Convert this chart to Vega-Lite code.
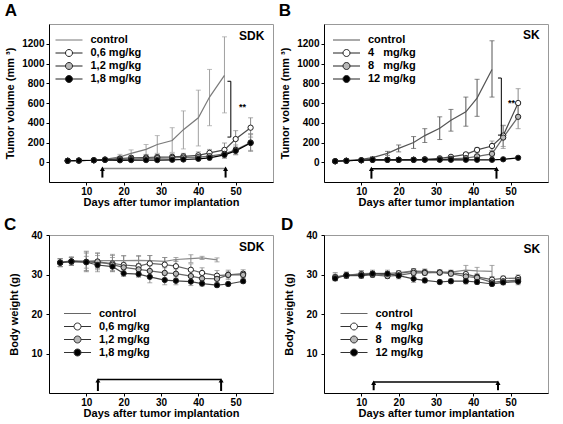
{
"$schema": "https://vega.github.io/schema/vega-lite/v6.json",
"background": "white",
"padding": {"left": 3, "top": 1, "right": 0, "bottom": 0},
"columns": 2,
"spacing": {"row": 7, "column": 4},
"config": {
  "font": "Liberation Sans",
  "view": {"stroke": "#999", "strokeWidth": 1},
  "axis": {"grid": false, "domainColor": "black", "domainWidth": 1, "tickColor": "black", "tickSize": 3, "labelPadding": 1, "labelFontSize": 10, "labelFontWeight": "bold", "labelColor": "black", "titleFontSize": 11, "titleFontWeight": "bold", "titleColor": "black"},
  "axisY": {"titlePadding": 6, "labelPadding": 2},
  "axisX": {"titlePadding": 0},
  "title": {"fontSize": 17, "fontWeight": "bold", "anchor": "start", "color": "black", "offset": 4},
  "legend": {"symbolSize": 144, "labelOffset": 1.5, "rowPadding": 1, "labelFontSize": 11, "labelFontWeight": "bold", "labelColor": "black", "padding": 0, "symbolStrokeWidth": 1}
},
"resolve": {"scale": {"x": "independent", "y": "independent", "fill": "independent", "stroke": "independent", "shape": "independent", "color": "independent"}, "legend": {"fill": "independent", "stroke": "independent", "shape": "independent"}, "axis": {"x": "independent", "y": "independent"}},
"concat": [
{
  "title": {"text": "A", "dx": 0},
  "width": 224, "height": 158,
  "encoding": {
    "x": {"field": "d", "type": "quantitative", "scale": {"domain": [0, 60], "nice": false}, "axis": {"values": [10, 20, 30, 40, 50]}, "title": "Days after tumor implantation"},
    "y": {"field": "v", "type": "quantitative", "scale": {"domain": [-200, 1400], "nice": false}, "axis": {"values": [0, 200, 400, 600, 800, 1000, 1200], "format": "d"}, "title": "Tumor volume (mm ³)"}
  },
  "layer": [
    {"data": {"name": "A"}, "transform": [{"filter": "isValid(datum.lo)"}], "mark": {"type": "rule", "strokeWidth": 1},
     "encoding": {"y": {"field": "lo", "type": "quantitative", "scale": {"domain": [-200, 1400], "nice": false}, "axis": {"values": [0, 200, 400, 600, 800, 1000, 1200], "format": "d"}, "title": "Tumor volume (mm ³)"}, "y2": {"field": "hi"},
       "color": {"condition": {"test": "datum.g==='control'", "value": "#a0a0a0"}, "value": "#888"}}},
    {"data": {"name": "A"}, "transform": [{"filter": "isValid(datum.lo)"}], "mark": {"type": "tick", "orient": "horizontal", "size": 5, "thickness": 1},
     "encoding": {"y": {"field": "hi", "type": "quantitative", "scale": {"domain": [-200, 1400], "nice": false}, "axis": {"values": [0, 200, 400, 600, 800, 1000, 1200], "format": "d"}, "title": "Tumor volume (mm ³)"},
       "color": {"condition": {"test": "datum.g==='control'", "value": "#a0a0a0"}, "value": "#888"}}},
    {"data": {"name": "A"}, "transform": [{"filter": "isValid(datum.lo)"}], "mark": {"type": "tick", "orient": "horizontal", "size": 5, "thickness": 1},
     "encoding": {"y": {"field": "lo", "type": "quantitative", "scale": {"domain": [-200, 1400], "nice": false}, "axis": {"values": [0, 200, 400, 600, 800, 1000, 1200], "format": "d"}, "title": "Tumor volume (mm ³)"},
       "color": {"condition": {"test": "datum.g==='control'", "value": "#a0a0a0"}, "value": "#888"}}},
    {"data": {"name": "A"}, "mark": {"type": "line", "strokeWidth": 1.2},
     "encoding": {"detail": {"field": "g", "type": "nominal"}, "stroke": {"condition": [{"test": "datum.g==='control'", "value": "#7a7a7a"}, {"test": "datum.g==='1,8 mg/kg'", "value": "#000000"}, {"test": "datum.g==='1,2 mg/kg'", "value": "#6a6a6a"}], "value": "#4a4a4a"}}},
    {"data": {"name": "A"}, "transform": [{"filter": "datum.g!=='control'"}], "mark": {"type": "point", "filled": true, "size": 28, "stroke": "#222", "strokeWidth": 1, "opacity": 1},
     "encoding": {"fill": {"condition": [{"test": "datum.g==='1,8 mg/kg'", "value": "#000000"}, {"test": "datum.g==='1,2 mg/kg'", "value": "#b8b8b8"}], "value": "#ffffff"}}},
    {"data": {"name": "A"}, "transform": [{"filter": "datum.d < 0"}], "mark": {"type": "point", "filled": true, "opacity": 1, "strokeWidth": 1},
     "encoding": {
       "shape": {"field": "g", "type": "nominal", "scale": {"domain": ["control", "0,6 mg/kg", "1,2 mg/kg", "1,8 mg/kg"], "range": ["M-4.5,0H0", "M-4.5,0H-2.833M-1.667,0H0M-2.833,0A0.583,0.583,0,1,1,-1.667,0A0.583,0.583,0,1,1,-2.833,0Z", "M-4.5,0H-2.833M-1.667,0H0M-2.833,0A0.583,0.583,0,1,1,-1.667,0A0.583,0.583,0,1,1,-2.833,0Z", "M-4.5,0H-2.833M-1.667,0H0M-2.833,0A0.583,0.583,0,1,1,-1.667,0A0.583,0.583,0,1,1,-2.833,0Z"]}, "legend": {"orient": "none", "legendX": 27, "legendY": 9.5, "title": null}},
       "fill": {"field": "g", "type": "nominal", "scale": {"domain": ["control", "0,6 mg/kg", "1,2 mg/kg", "1,8 mg/kg"], "range": ["transparent", "#ffffff", "#b8b8b8", "#000000"]}, "legend": {"orient": "none", "legendX": 27, "legendY": 9.5, "title": null}},
       "stroke": {"field": "g", "type": "nominal", "scale": {"domain": ["control", "0,6 mg/kg", "1,2 mg/kg", "1,8 mg/kg"], "range": ["#777777", "#222222", "#222222", "#222222"]}, "legend": {"orient": "none", "legendX": 27, "legendY": 9.5, "title": null}}
     }},
    {"data": {"name": "A_bar"}, "mark": {"type": "rule", "color": "#888", "strokeWidth": 1.5}, "encoding": {"x2": {"field": "d2"}}},
    {"data": {"name": "A_arr"}, "mark": {"type": "rule", "color": "black", "strokeWidth": 2}, "encoding": {"y2": {"field": "v2"}}},
    {"data": {"name": "A_arr"}, "mark": {"type": "point", "shape": "triangle-up", "filled": true, "color": "black", "size": 25, "opacity": 1},
     "encoding": {"y": {"field": "v2", "type": "quantitative", "scale": {"domain": [-200, 1400], "nice": false}, "axis": {"values": [0, 200, 400, 600, 800, 1000, 1200], "format": "d"}, "title": "Tumor volume (mm ³)"}}},
    {"data": {"name": "A_sig"}, "mark": {"type": "rule", "color": "black", "strokeWidth": 1}, "encoding": {"x2": {"field": "d2"}, "y2": {"field": "v2"}}},
    {"data": {"name": "A_star"}, "mark": {"type": "text", "fontSize": 9, "fontWeight": "bold", "align": "left", "color": "black"}, "encoding": {"text": {"field": "t"}}},
    {"data": {"name": "A_lab"}, "mark": {"type": "text", "fontSize": 12, "fontWeight": "bold", "align": "right", "color": "black"}, "encoding": {"text": {"field": "t"}}}
  ]
},
{
  "title": {"text": "B", "dx": -1},
  "width": 224, "height": 158,
  "encoding": {
    "x": {"field": "d", "type": "quantitative", "scale": {"domain": [0, 60], "nice": false}, "axis": {"values": [10, 20, 30, 40, 50]}, "title": "Days after tumor implantation"},
    "y": {"field": "v", "type": "quantitative", "scale": {"domain": [-200, 1400], "nice": false}, "axis": {"values": [0, 200, 400, 600, 800, 1000, 1200], "format": "d"}, "title": "Tumor volume (mm ³)"}
  },
  "layer": [
    {"data": {"name": "B"}, "transform": [{"filter": "isValid(datum.lo)"}], "mark": {"type": "rule", "strokeWidth": 1},
     "encoding": {"y": {"field": "lo", "type": "quantitative", "scale": {"domain": [-200, 1400], "nice": false}, "axis": {"values": [0, 200, 400, 600, 800, 1000, 1200], "format": "d"}, "title": "Tumor volume (mm ³)"}, "y2": {"field": "hi"},
       "color": {"condition": {"test": "datum.g==='control'", "value": "#555"}, "value": "#888"}}},
    {"data": {"name": "B"}, "transform": [{"filter": "isValid(datum.lo)"}], "mark": {"type": "tick", "orient": "horizontal", "size": 5, "thickness": 1},
     "encoding": {"y": {"field": "hi", "type": "quantitative", "scale": {"domain": [-200, 1400], "nice": false}, "axis": {"values": [0, 200, 400, 600, 800, 1000, 1200], "format": "d"}, "title": "Tumor volume (mm ³)"},
       "color": {"condition": {"test": "datum.g==='control'", "value": "#555"}, "value": "#888"}}},
    {"data": {"name": "B"}, "transform": [{"filter": "isValid(datum.lo)"}], "mark": {"type": "tick", "orient": "horizontal", "size": 5, "thickness": 1},
     "encoding": {"y": {"field": "lo", "type": "quantitative", "scale": {"domain": [-200, 1400], "nice": false}, "axis": {"values": [0, 200, 400, 600, 800, 1000, 1200], "format": "d"}, "title": "Tumor volume (mm ³)"},
       "color": {"condition": {"test": "datum.g==='control'", "value": "#555"}, "value": "#888"}}},
    {"data": {"name": "B"}, "mark": {"type": "line", "strokeWidth": 1.2},
     "encoding": {"detail": {"field": "g", "type": "nominal"}, "stroke": {"condition": [{"test": "datum.g==='control'", "value": "#555555"}, {"test": "datum.g==='12 mg/kg'", "value": "#000000"}, {"test": "datum.g==='8\u2007 mg/kg'", "value": "#6a6a6a"}], "value": "#4a4a4a"}}},
    {"data": {"name": "B"}, "transform": [{"filter": "datum.g!=='control'"}], "mark": {"type": "point", "filled": true, "size": 28, "stroke": "#222", "strokeWidth": 1, "opacity": 1},
     "encoding": {"fill": {"condition": [{"test": "datum.g==='12 mg/kg'", "value": "#000000"}, {"test": "datum.g==='8\u2007 mg/kg'", "value": "#b8b8b8"}], "value": "#ffffff"}}},
    {"data": {"name": "B"}, "transform": [{"filter": "datum.d < 0"}], "mark": {"type": "point", "filled": true, "opacity": 1, "strokeWidth": 1},
     "encoding": {
       "shape": {"field": "g", "type": "nominal", "scale": {"domain": ["control", "4\u2007 mg/kg", "8\u2007 mg/kg", "12 mg/kg"], "range": ["M-4.5,0H0", "M-4.5,0H-2.833M-1.667,0H0M-2.833,0A0.583,0.583,0,1,1,-1.667,0A0.583,0.583,0,1,1,-2.833,0Z", "M-4.5,0H-2.833M-1.667,0H0M-2.833,0A0.583,0.583,0,1,1,-1.667,0A0.583,0.583,0,1,1,-2.833,0Z", "M-4.5,0H-2.833M-1.667,0H0M-2.833,0A0.583,0.583,0,1,1,-1.667,0A0.583,0.583,0,1,1,-2.833,0Z"]}, "legend": {"orient": "none", "legendX": 29.5, "legendY": 9.5, "title": null}},
       "fill": {"field": "g", "type": "nominal", "scale": {"domain": ["control", "4\u2007 mg/kg", "8\u2007 mg/kg", "12 mg/kg"], "range": ["transparent", "#ffffff", "#b8b8b8", "#000000"]}, "legend": {"orient": "none", "legendX": 29.5, "legendY": 9.5, "title": null}},
       "stroke": {"field": "g", "type": "nominal", "scale": {"domain": ["control", "4\u2007 mg/kg", "8\u2007 mg/kg", "12 mg/kg"], "range": ["#555555", "#222222", "#222222", "#222222"]}, "legend": {"orient": "none", "legendX": 29.5, "legendY": 9.5, "title": null}}
     }},
    {"data": {"name": "B_bar"}, "mark": {"type": "rule", "color": "black", "strokeWidth": 1.5}, "encoding": {"x2": {"field": "d2"}}},
    {"data": {"name": "B_arr"}, "mark": {"type": "rule", "color": "black", "strokeWidth": 2}, "encoding": {"y2": {"field": "v2"}}},
    {"data": {"name": "B_arr"}, "mark": {"type": "point", "shape": "triangle-up", "filled": true, "color": "black", "size": 25, "opacity": 1},
     "encoding": {"y": {"field": "v2", "type": "quantitative", "scale": {"domain": [-200, 1400], "nice": false}, "axis": {"values": [0, 200, 400, 600, 800, 1000, 1200], "format": "d"}, "title": "Tumor volume (mm ³)"}}},
    {"data": {"name": "B_sig"}, "mark": {"type": "rule", "color": "black", "strokeWidth": 1}, "encoding": {"x2": {"field": "d2"}, "y2": {"field": "v2"}}},
    {"data": {"name": "B_star"}, "mark": {"type": "text", "fontSize": 9, "fontWeight": "bold", "align": "left", "color": "black"}, "encoding": {"text": {"field": "t"}}},
    {"data": {"name": "B_lab"}, "mark": {"type": "text", "fontSize": 12, "fontWeight": "bold", "align": "right", "color": "black"}, "encoding": {"text": {"field": "t"}}}
  ]
},
{
  "title": {"text": "C", "dx": -5, "offset": -4},
  "width": 224, "height": 158,
  "encoding": {
    "x": {"field": "d", "type": "quantitative", "scale": {"domain": [0, 60], "nice": false}, "axis": {"values": [10, 20, 30, 40, 50]}, "title": "Days after tumor implantation"},
    "y": {"field": "v", "type": "quantitative", "scale": {"domain": [0, 40], "nice": false}, "axis": {"values": [10, 20, 30, 40], "labelPadding": 4, "titlePadding": 11}, "title": "Body weight (g)"}
  },
  "layer": [
    {"data": {"name": "C"}, "mark": {"type": "rule", "strokeWidth": 1, "color": "#888"},
     "encoding": {"y": {"field": "lo", "type": "quantitative", "scale": {"domain": [0, 40], "nice": false}, "axis": {"values": [10, 20, 30, 40], "labelPadding": 4, "titlePadding": 11}, "title": "Body weight (g)"}, "y2": {"field": "hi"}}},
    {"data": {"name": "C"}, "mark": {"type": "tick", "orient": "horizontal", "size": 5, "thickness": 1, "color": "#888"},
     "encoding": {"y": {"field": "hi", "type": "quantitative", "scale": {"domain": [0, 40], "nice": false}, "axis": {"values": [10, 20, 30, 40], "labelPadding": 4, "titlePadding": 11}, "title": "Body weight (g)"}}},
    {"data": {"name": "C"}, "mark": {"type": "tick", "orient": "horizontal", "size": 5, "thickness": 1, "color": "#888"},
     "encoding": {"y": {"field": "lo", "type": "quantitative", "scale": {"domain": [0, 40], "nice": false}, "axis": {"values": [10, 20, 30, 40], "labelPadding": 4, "titlePadding": 11}, "title": "Body weight (g)"}}},
    {"data": {"name": "C"}, "mark": {"type": "line", "strokeWidth": 1.2},
     "encoding": {"detail": {"field": "g", "type": "nominal"}, "stroke": {"condition": [{"test": "datum.g==='control'", "value": "#888888"}, {"test": "datum.g==='1,8 mg/kg'", "value": "#444444"}], "value": "#666666"}}},
    {"data": {"name": "C"}, "transform": [{"filter": "datum.g!=='control'"}], "mark": {"type": "point", "filled": true, "size": 28, "stroke": "#222", "strokeWidth": 1, "opacity": 1},
     "encoding": {"fill": {"condition": [{"test": "datum.g==='1,8 mg/kg'", "value": "#000000"}, {"test": "datum.g==='1,2 mg/kg'", "value": "#b8b8b8"}], "value": "#ffffff"}}},
    {"data": {"name": "C"}, "transform": [{"filter": "datum.d < 0"}], "mark": {"type": "point", "filled": true, "opacity": 1, "strokeWidth": 1},
     "encoding": {
       "shape": {"field": "g", "type": "nominal", "scale": {"domain": ["control", "0,6 mg/kg", "1,2 mg/kg", "1,8 mg/kg"], "range": ["M-4.5,0H0", "M-4.5,0H-2.833M-1.667,0H0M-2.833,0A0.583,0.583,0,1,1,-1.667,0A0.583,0.583,0,1,1,-2.833,0Z", "M-4.5,0H-2.833M-1.667,0H0M-2.833,0A0.583,0.583,0,1,1,-1.667,0A0.583,0.583,0,1,1,-2.833,0Z", "M-4.5,0H-2.833M-1.667,0H0M-2.833,0A0.583,0.583,0,1,1,-1.667,0A0.583,0.583,0,1,1,-2.833,0Z"]}, "legend": {"orient": "none", "legendX": 35.5, "legendY": 72, "title": null}},
       "fill": {"field": "g", "type": "nominal", "scale": {"domain": ["control", "0,6 mg/kg", "1,2 mg/kg", "1,8 mg/kg"], "range": ["transparent", "#ffffff", "#b8b8b8", "#000000"]}, "legend": {"orient": "none", "legendX": 35.5, "legendY": 72, "title": null}},
       "stroke": {"field": "g", "type": "nominal", "scale": {"domain": ["control", "0,6 mg/kg", "1,2 mg/kg", "1,8 mg/kg"], "range": ["#666666", "#333333", "#333333", "#333333"]}, "legend": {"orient": "none", "legendX": 35.5, "legendY": 72, "title": null}}
     }},
    {"data": {"name": "C_bar"}, "mark": {"type": "rule", "color": "black", "strokeWidth": 1.5}, "encoding": {"x2": {"field": "d2"}}},
    {"data": {"name": "C_arr"}, "mark": {"type": "rule", "color": "black", "strokeWidth": 2}, "encoding": {"y2": {"field": "v2"}}},
    {"data": {"name": "C_arr"}, "mark": {"type": "point", "shape": "triangle-up", "filled": true, "color": "black", "size": 25, "opacity": 1},
     "encoding": {"y": {"field": "v2", "type": "quantitative", "scale": {"domain": [0, 40], "nice": false}, "axis": {"values": [10, 20, 30, 40], "labelPadding": 4, "titlePadding": 11}, "title": "Body weight (g)"}}},
    {"data": {"name": "C_lab"}, "mark": {"type": "text", "fontSize": 12, "fontWeight": "bold", "align": "right", "color": "black"}, "encoding": {"text": {"field": "t"}}}
  ]
},
{
  "title": {"text": "D", "dx": -3, "offset": -4},
  "width": 224, "height": 158,
  "encoding": {
    "x": {"field": "d", "type": "quantitative", "scale": {"domain": [0, 60], "nice": false}, "axis": {"values": [10, 20, 30, 40, 50]}, "title": "Days after tumor implantation"},
    "y": {"field": "v", "type": "quantitative", "scale": {"domain": [0, 40], "nice": false}, "axis": {"values": [10, 20, 30, 40], "labelPadding": 4, "titlePadding": 11}, "title": "Body weight (g)"}
  },
  "layer": [
    {"data": {"name": "D"}, "mark": {"type": "rule", "strokeWidth": 1, "color": "#888"},
     "encoding": {"y": {"field": "lo", "type": "quantitative", "scale": {"domain": [0, 40], "nice": false}, "axis": {"values": [10, 20, 30, 40], "labelPadding": 4, "titlePadding": 11}, "title": "Body weight (g)"}, "y2": {"field": "hi"}}},
    {"data": {"name": "D"}, "mark": {"type": "tick", "orient": "horizontal", "size": 5, "thickness": 1, "color": "#888"},
     "encoding": {"y": {"field": "hi", "type": "quantitative", "scale": {"domain": [0, 40], "nice": false}, "axis": {"values": [10, 20, 30, 40], "labelPadding": 4, "titlePadding": 11}, "title": "Body weight (g)"}}},
    {"data": {"name": "D"}, "mark": {"type": "tick", "orient": "horizontal", "size": 5, "thickness": 1, "color": "#888"},
     "encoding": {"y": {"field": "lo", "type": "quantitative", "scale": {"domain": [0, 40], "nice": false}, "axis": {"values": [10, 20, 30, 40], "labelPadding": 4, "titlePadding": 11}, "title": "Body weight (g)"}}},
    {"data": {"name": "D"}, "mark": {"type": "line", "strokeWidth": 1.2},
     "encoding": {"detail": {"field": "g", "type": "nominal"}, "stroke": {"condition": [{"test": "datum.g==='control'", "value": "#888888"}, {"test": "datum.g==='12 mg/kg'", "value": "#444444"}], "value": "#666666"}}},
    {"data": {"name": "D"}, "transform": [{"filter": "datum.g!=='control'"}], "mark": {"type": "point", "filled": true, "size": 28, "stroke": "#222", "strokeWidth": 1, "opacity": 1},
     "encoding": {"fill": {"condition": [{"test": "datum.g==='12 mg/kg'", "value": "#000000"}, {"test": "datum.g==='8\u2007 mg/kg'", "value": "#b8b8b8"}], "value": "#ffffff"}}},
    {"data": {"name": "D"}, "transform": [{"filter": "datum.d < 0"}], "mark": {"type": "point", "filled": true, "opacity": 1, "strokeWidth": 1},
     "encoding": {
       "shape": {"field": "g", "type": "nominal", "scale": {"domain": ["control", "4\u2007 mg/kg", "8\u2007 mg/kg", "12 mg/kg"], "range": ["M-4.5,0H0", "M-4.5,0H-2.833M-1.667,0H0M-2.833,0A0.583,0.583,0,1,1,-1.667,0A0.583,0.583,0,1,1,-2.833,0Z", "M-4.5,0H-2.833M-1.667,0H0M-2.833,0A0.583,0.583,0,1,1,-1.667,0A0.583,0.583,0,1,1,-2.833,0Z", "M-4.5,0H-2.833M-1.667,0H0M-2.833,0A0.583,0.583,0,1,1,-1.667,0A0.583,0.583,0,1,1,-2.833,0Z"]}, "legend": {"orient": "none", "legendX": 37, "legendY": 72, "title": null}},
       "fill": {"field": "g", "type": "nominal", "scale": {"domain": ["control", "4\u2007 mg/kg", "8\u2007 mg/kg", "12 mg/kg"], "range": ["transparent", "#ffffff", "#b8b8b8", "#000000"]}, "legend": {"orient": "none", "legendX": 37, "legendY": 72, "title": null}},
       "stroke": {"field": "g", "type": "nominal", "scale": {"domain": ["control", "4\u2007 mg/kg", "8\u2007 mg/kg", "12 mg/kg"], "range": ["#666666", "#333333", "#333333", "#333333"]}, "legend": {"orient": "none", "legendX": 37, "legendY": 72, "title": null}}
     }},
    {"data": {"name": "D_bar"}, "mark": {"type": "rule", "color": "black", "strokeWidth": 1.5}, "encoding": {"x2": {"field": "d2"}}},
    {"data": {"name": "D_arr"}, "mark": {"type": "rule", "color": "black", "strokeWidth": 2}, "encoding": {"y2": {"field": "v2"}}},
    {"data": {"name": "D_arr"}, "mark": {"type": "point", "shape": "triangle-up", "filled": true, "color": "black", "size": 25, "opacity": 1},
     "encoding": {"y": {"field": "v2", "type": "quantitative", "scale": {"domain": [0, 40], "nice": false}, "axis": {"values": [10, 20, 30, 40], "labelPadding": 4, "titlePadding": 11}, "title": "Body weight (g)"}}},
    {"data": {"name": "D_lab"}, "mark": {"type": "text", "fontSize": 12, "fontWeight": "bold", "align": "right", "color": "black"}, "encoding": {"text": {"field": "t"}}}
  ]
}
],
"datasets": {
"A": [
{"g":"control","d":5,"v":15},{"g":"control","d":8,"v":18},{"g":"control","d":12,"v":22},
{"g":"control","d":15,"v":30,"lo":20,"hi":42},{"g":"control","d":19,"v":55,"lo":30,"hi":80},{"g":"control","d":22,"v":90,"lo":55,"hi":125},
{"g":"control","d":26,"v":130,"lo":80,"hi":180},{"g":"control","d":29,"v":180,"lo":90,"hi":270},{"g":"control","d":33,"v":220,"lo":100,"hi":350},
{"g":"control","d":36,"v":330,"lo":135,"hi":520},{"g":"control","d":40,"v":450,"lo":165,"hi":730},{"g":"control","d":43,"v":660,"lo":370,"hi":940},
{"g":"control","d":47,"v":880,"lo":500,"hi":1270},
{"g":"0,6 mg/kg","d":5,"v":15},{"g":"0,6 mg/kg","d":8,"v":17},{"g":"0,6 mg/kg","d":12,"v":20},
{"g":"0,6 mg/kg","d":15,"v":28,"lo":20,"hi":36},{"g":"0,6 mg/kg","d":19,"v":38,"lo":22,"hi":60},{"g":"0,6 mg/kg","d":22,"v":45,"lo":28,"hi":68},
{"g":"0,6 mg/kg","d":26,"v":48,"lo":30,"hi":75},{"g":"0,6 mg/kg","d":29,"v":52,"lo":32,"hi":80},{"g":"0,6 mg/kg","d":33,"v":55,"lo":35,"hi":85},
{"g":"0,6 mg/kg","d":36,"v":60,"lo":38,"hi":90},{"g":"0,6 mg/kg","d":40,"v":70,"lo":45,"hi":105},{"g":"0,6 mg/kg","d":43,"v":95,"lo":62,"hi":130},
{"g":"0,6 mg/kg","d":47,"v":125,"lo":70,"hi":195},{"g":"0,6 mg/kg","d":50,"v":235,"lo":150,"hi":320},{"g":"0,6 mg/kg","d":54,"v":350,"lo":255,"hi":450},
{"g":"1,2 mg/kg","d":5,"v":15},{"g":"1,2 mg/kg","d":8,"v":17},{"g":"1,2 mg/kg","d":12,"v":20},
{"g":"1,2 mg/kg","d":15,"v":25,"lo":18,"hi":32},{"g":"1,2 mg/kg","d":19,"v":30,"lo":15,"hi":48},{"g":"1,2 mg/kg","d":22,"v":33,"lo":18,"hi":50},
{"g":"1,2 mg/kg","d":26,"v":38,"lo":20,"hi":58},{"g":"1,2 mg/kg","d":29,"v":42,"lo":22,"hi":62},{"g":"1,2 mg/kg","d":33,"v":45,"lo":25,"hi":65},
{"g":"1,2 mg/kg","d":36,"v":48,"lo":28,"hi":70},{"g":"1,2 mg/kg","d":40,"v":52,"lo":30,"hi":78},{"g":"1,2 mg/kg","d":43,"v":62,"lo":38,"hi":90},
{"g":"1,2 mg/kg","d":47,"v":85,"lo":45,"hi":130},{"g":"1,2 mg/kg","d":50,"v":125,"lo":80,"hi":175},{"g":"1,2 mg/kg","d":54,"v":200,"lo":120,"hi":290},
{"g":"1,8 mg/kg","d":5,"v":15},{"g":"1,8 mg/kg","d":8,"v":17},{"g":"1,8 mg/kg","d":12,"v":20},
{"g":"1,8 mg/kg","d":15,"v":25,"lo":18,"hi":32},{"g":"1,8 mg/kg","d":19,"v":20,"lo":12,"hi":30},{"g":"1,8 mg/kg","d":22,"v":22,"lo":12,"hi":32},
{"g":"1,8 mg/kg","d":26,"v":22,"lo":12,"hi":32},{"g":"1,8 mg/kg","d":29,"v":22,"lo":12,"hi":34},{"g":"1,8 mg/kg","d":33,"v":25,"lo":14,"hi":38},
{"g":"1,8 mg/kg","d":36,"v":28,"lo":16,"hi":42},{"g":"1,8 mg/kg","d":40,"v":35,"lo":20,"hi":52},{"g":"1,8 mg/kg","d":43,"v":45,"lo":25,"hi":68},
{"g":"1,8 mg/kg","d":47,"v":75,"lo":40,"hi":110},{"g":"1,8 mg/kg","d":50,"v":115,"lo":75,"hi":155},{"g":"1,8 mg/kg","d":54,"v":195,"lo":110,"hi":280}
],
"A_bar": [{"d":14.3,"d2":47.3,"v":-64}],
"A_arr": [{"d":14.3,"v":-155,"v2":-66},{"d":47.3,"v":-155,"v2":-66}],
"A_sig": [{"d":48.7,"d2":48.7,"v":255,"v2":820},{"d":47.8,"d2":48.7,"v":820,"v2":820},{"d":47.8,"d2":48.7,"v":255,"v2":255}],
"A_star": [{"d":50.9,"v":560,"t":"**"}],
"A_lab": [{"d":57.7,"v":1277,"t":"SDK"}],
"B": [
{"g":"control","d":3,"v":10},{"g":"control","d":6,"v":17},{"g":"control","d":10,"v":30},
{"g":"control","d":13,"v":47,"lo":37,"hi":57},{"g":"control","d":17,"v":90,"lo":70,"hi":110},{"g":"control","d":20,"v":140,"lo":105,"hi":175},
{"g":"control","d":24,"v":200,"lo":140,"hi":260},{"g":"control","d":27,"v":270,"lo":200,"hi":340},{"g":"control","d":31,"v":345,"lo":230,"hi":460},
{"g":"control","d":34,"v":425,"lo":315,"hi":535},{"g":"control","d":38,"v":510,"lo":365,"hi":660},{"g":"control","d":41,"v":650,"lo":465,"hi":840},
{"g":"control","d":45,"v":940,"lo":660,"hi":1230},
{"g":"4\u2007 mg/kg","d":3,"v":10},{"g":"4\u2007 mg/kg","d":6,"v":15},{"g":"4\u2007 mg/kg","d":10,"v":20},{"g":"4\u2007 mg/kg","d":13,"v":25},
{"g":"4\u2007 mg/kg","d":17,"v":25},{"g":"4\u2007 mg/kg","d":20,"v":25},{"g":"4\u2007 mg/kg","d":24,"v":25},
{"g":"4\u2007 mg/kg","d":27,"v":30,"lo":22,"hi":38},{"g":"4\u2007 mg/kg","d":31,"v":40,"lo":30,"hi":50},{"g":"4\u2007 mg/kg","d":34,"v":55,"lo":42,"hi":68},
{"g":"4\u2007 mg/kg","d":38,"v":80,"lo":62,"hi":98},{"g":"4\u2007 mg/kg","d":41,"v":125,"lo":100,"hi":150},{"g":"4\u2007 mg/kg","d":45,"v":165,"lo":120,"hi":215},
{"g":"4\u2007 mg/kg","d":48,"v":270,"lo":160,"hi":375},{"g":"4\u2007 mg/kg","d":52,"v":600,"lo":450,"hi":745},
{"g":"8\u2007 mg/kg","d":3,"v":10},{"g":"8\u2007 mg/kg","d":6,"v":15},{"g":"8\u2007 mg/kg","d":10,"v":20},{"g":"8\u2007 mg/kg","d":13,"v":25},
{"g":"8\u2007 mg/kg","d":17,"v":25},{"g":"8\u2007 mg/kg","d":20,"v":25},{"g":"8\u2007 mg/kg","d":24,"v":25},
{"g":"8\u2007 mg/kg","d":27,"v":28,"lo":20,"hi":36},{"g":"8\u2007 mg/kg","d":31,"v":30,"lo":22,"hi":38},{"g":"8\u2007 mg/kg","d":34,"v":35,"lo":25,"hi":45},
{"g":"8\u2007 mg/kg","d":38,"v":42,"lo":30,"hi":55},{"g":"8\u2007 mg/kg","d":41,"v":60,"lo":40,"hi":80},{"g":"8\u2007 mg/kg","d":45,"v":85,"lo":55,"hi":115},
{"g":"8\u2007 mg/kg","d":48,"v":250,"lo":140,"hi":370},{"g":"8\u2007 mg/kg","d":52,"v":460,"lo":340,"hi":580},
{"g":"12 mg/kg","d":3,"v":10},{"g":"12 mg/kg","d":6,"v":15},{"g":"12 mg/kg","d":10,"v":20},{"g":"12 mg/kg","d":13,"v":25},
{"g":"12 mg/kg","d":17,"v":25},{"g":"12 mg/kg","d":20,"v":25},{"g":"12 mg/kg","d":24,"v":25},{"g":"12 mg/kg","d":27,"v":25},
{"g":"12 mg/kg","d":31,"v":25},{"g":"12 mg/kg","d":34,"v":25},{"g":"12 mg/kg","d":38,"v":25},{"g":"12 mg/kg","d":41,"v":25},
{"g":"12 mg/kg","d":45,"v":25},{"g":"12 mg/kg","d":48,"v":30},{"g":"12 mg/kg","d":52,"v":45}
],
"B_bar": [{"d":12.7,"d2":46.2,"v":-65}],
"B_arr": [{"d":12.7,"v":-166,"v2":-67},{"d":46.2,"v":-166,"v2":-67}],
"B_sig": [{"d":47.5,"d2":47.5,"v":275,"v2":853},{"d":46.6,"d2":47.5,"v":853,"v2":853},{"d":46.6,"d2":47.5,"v":275,"v2":275}],
"B_star": [{"d":49.3,"v":595,"t":"**"}],
"B_lab": [{"d":57.8,"v":1290,"t":"SK"}],
"C": [
{"g":"control","d":3,"v":33.0,"lo":32.0,"hi":34.0},{"g":"control","d":6,"v":33.5,"lo":32.5,"hi":34.5},{"g":"control","d":10,"v":33.4,"lo":30.9,"hi":35.9},
{"g":"control","d":13,"v":33.5,"lo":31.5,"hi":35.5},{"g":"control","d":17,"v":33.5,"lo":31.9,"hi":35.1},{"g":"control","d":20,"v":33.5,"lo":32.2,"hi":34.8},
{"g":"control","d":24,"v":33.6,"lo":32.4,"hi":34.8},{"g":"control","d":27,"v":33.5,"lo":32.2,"hi":34.8},{"g":"control","d":31,"v":33.3,"lo":32.3,"hi":34.3},
{"g":"control","d":34,"v":33.8,"lo":33.3,"hi":34.3},{"g":"control","d":38,"v":34.0,"lo":33.0,"hi":35.0},{"g":"control","d":41,"v":34.2,"lo":33.8,"hi":34.6},
{"g":"control","d":45,"v":33.7,"lo":33.2,"hi":34.2},
{"g":"0,6 mg/kg","d":3,"v":33.0,"lo":32.0,"hi":34.0},{"g":"0,6 mg/kg","d":6,"v":33.3,"lo":32.3,"hi":34.3},{"g":"0,6 mg/kg","d":10,"v":33.2,"lo":30.7,"hi":35.7},
{"g":"0,6 mg/kg","d":13,"v":33.0,"lo":30.7,"hi":35.3},{"g":"0,6 mg/kg","d":17,"v":32.8,"lo":30.8,"hi":34.8},{"g":"0,6 mg/kg","d":20,"v":32.4,"lo":30.1,"hi":34.7},
{"g":"0,6 mg/kg","d":24,"v":32.1,"lo":29.6,"hi":34.6},{"g":"0,6 mg/kg","d":27,"v":32.8,"lo":30.8,"hi":34.8},{"g":"0,6 mg/kg","d":31,"v":32.5,"lo":30.7,"hi":34.3},
{"g":"0,6 mg/kg","d":34,"v":32.1,"lo":30.5,"hi":33.7},{"g":"0,6 mg/kg","d":38,"v":31.2,"lo":29.7,"hi":32.7},{"g":"0,6 mg/kg","d":41,"v":30.4,"lo":29.1,"hi":31.7},
{"g":"0,6 mg/kg","d":45,"v":29.7,"lo":28.4,"hi":31.0},{"g":"0,6 mg/kg","d":48,"v":29.9,"lo":28.7,"hi":31.1},{"g":"0,6 mg/kg","d":52,"v":30.2,"lo":29.2,"hi":31.2},
{"g":"1,2 mg/kg","d":3,"v":33.0,"lo":32.0,"hi":34.0},{"g":"1,2 mg/kg","d":6,"v":33.3,"lo":32.3,"hi":34.3},{"g":"1,2 mg/kg","d":10,"v":33.2,"lo":31.0,"hi":35.4},
{"g":"1,2 mg/kg","d":13,"v":33.3,"lo":31.8,"hi":34.8},{"g":"1,2 mg/kg","d":17,"v":32.5,"lo":30.7,"hi":34.3},{"g":"1,2 mg/kg","d":20,"v":31.8,"lo":30.5,"hi":33.1},
{"g":"1,2 mg/kg","d":24,"v":31.3,"lo":29.8,"hi":32.8},{"g":"1,2 mg/kg","d":27,"v":30.9,"lo":29.4,"hi":32.4},{"g":"1,2 mg/kg","d":31,"v":30.4,"lo":29.1,"hi":31.7},
{"g":"1,2 mg/kg","d":34,"v":30.2,"lo":29.0,"hi":31.4},{"g":"1,2 mg/kg","d":38,"v":29.6,"lo":28.4,"hi":30.8},{"g":"1,2 mg/kg","d":41,"v":29.0,"lo":28.0,"hi":30.0},
{"g":"1,2 mg/kg","d":45,"v":28.9,"lo":27.9,"hi":29.9},{"g":"1,2 mg/kg","d":48,"v":29.9,"lo":29.1,"hi":30.7},{"g":"1,2 mg/kg","d":52,"v":29.9,"lo":29.1,"hi":30.7},
{"g":"1,8 mg/kg","d":3,"v":33.0,"lo":32.0,"hi":34.0},{"g":"1,8 mg/kg","d":6,"v":33.3,"lo":32.3,"hi":34.3},{"g":"1,8 mg/kg","d":10,"v":33.1,"lo":31.6,"hi":34.6},
{"g":"1,8 mg/kg","d":13,"v":32.4,"lo":31.2,"hi":33.6},{"g":"1,8 mg/kg","d":17,"v":32.0,"lo":31.0,"hi":33.0},{"g":"1,8 mg/kg","d":20,"v":30.3,"lo":29.5,"hi":31.1},
{"g":"1,8 mg/kg","d":24,"v":30.1,"lo":29.3,"hi":30.9},{"g":"1,8 mg/kg","d":27,"v":29.4,"lo":27.9,"hi":30.9},{"g":"1,8 mg/kg","d":31,"v":28.6,"lo":27.4,"hi":29.8},
{"g":"1,8 mg/kg","d":34,"v":28.4,"lo":27.4,"hi":29.4},{"g":"1,8 mg/kg","d":38,"v":28.2,"lo":27.2,"hi":29.2},{"g":"1,8 mg/kg","d":41,"v":27.7,"lo":27.1,"hi":28.3},
{"g":"1,8 mg/kg","d":45,"v":27.3,"lo":26.8,"hi":27.8},{"g":"1,8 mg/kg","d":48,"v":27.6,"lo":27.1,"hi":28.1},{"g":"1,8 mg/kg","d":52,"v":28.3,"lo":27.8,"hi":28.8}
],
"C_bar": [{"d":13.1,"d2":46.1,"v":3.4}],
"C_arr": [{"d":13.1,"v":0.5,"v2":3.2},{"d":46.1,"v":0.5,"v2":3.2}],
"C_lab": [{"d":57.7,"v":37.0,"t":"SDK"}],
"D": [
{"g":"control","d":3,"v":29.5,"lo":28.5,"hi":30.5},{"g":"control","d":6,"v":29.8,"lo":29.0,"hi":30.6},{"g":"control","d":10,"v":30.2,"lo":29.4,"hi":31.0},
{"g":"control","d":13,"v":30.3,"lo":29.5,"hi":31.1},{"g":"control","d":17,"v":30.3,"lo":29.5,"hi":31.1},{"g":"control","d":20,"v":30.5,"lo":30.0,"hi":31.0},
{"g":"control","d":24,"v":30.9,"lo":30.3,"hi":31.5},{"g":"control","d":27,"v":30.8,"lo":30.2,"hi":31.4},{"g":"control","d":31,"v":30.7,"lo":30.2,"hi":31.2},
{"g":"control","d":34,"v":30.6,"lo":30.1,"hi":31.1},{"g":"control","d":38,"v":31.1,"lo":29.9,"hi":32.3},{"g":"control","d":41,"v":30.9,"lo":30.0,"hi":31.8},
{"g":"control","d":45,"v":30.8,"lo":29.3,"hi":32.3},
{"g":"4\u2007 mg/kg","d":3,"v":29.3,"lo":28.5,"hi":30.1},{"g":"4\u2007 mg/kg","d":6,"v":29.8,"lo":29.0,"hi":30.6},{"g":"4\u2007 mg/kg","d":10,"v":30.1,"lo":29.3,"hi":30.9},
{"g":"4\u2007 mg/kg","d":13,"v":30.2,"lo":29.6,"hi":30.8},{"g":"4\u2007 mg/kg","d":17,"v":29.9,"lo":29.1,"hi":30.7},{"g":"4\u2007 mg/kg","d":20,"v":30.3,"lo":29.8,"hi":30.8},
{"g":"4\u2007 mg/kg","d":24,"v":30.8,"lo":30.1,"hi":31.5},{"g":"4\u2007 mg/kg","d":27,"v":30.6,"lo":30.0,"hi":31.2},{"g":"4\u2007 mg/kg","d":31,"v":30.5,"lo":30.0,"hi":31.0},
{"g":"4\u2007 mg/kg","d":34,"v":30.4,"lo":29.8,"hi":31.0},{"g":"4\u2007 mg/kg","d":38,"v":30.1,"lo":29.3,"hi":30.9},{"g":"4\u2007 mg/kg","d":41,"v":29.4,"lo":28.6,"hi":30.2},
{"g":"4\u2007 mg/kg","d":45,"v":28.7,"lo":27.9,"hi":29.5},{"g":"4\u2007 mg/kg","d":48,"v":29.0,"lo":28.4,"hi":29.6},{"g":"4\u2007 mg/kg","d":52,"v":29.1,"lo":28.3,"hi":29.9},
{"g":"8\u2007 mg/kg","d":3,"v":29.3,"lo":28.7,"hi":29.9},{"g":"8\u2007 mg/kg","d":6,"v":29.7,"lo":29.1,"hi":30.3},{"g":"8\u2007 mg/kg","d":10,"v":29.7,"lo":29.1,"hi":30.3},
{"g":"8\u2007 mg/kg","d":13,"v":29.9,"lo":29.3,"hi":30.5},{"g":"8\u2007 mg/kg","d":17,"v":29.6,"lo":29.0,"hi":30.2},{"g":"8\u2007 mg/kg","d":20,"v":29.8,"lo":29.2,"hi":30.4},
{"g":"8\u2007 mg/kg","d":24,"v":30.4,"lo":29.8,"hi":31.0},{"g":"8\u2007 mg/kg","d":27,"v":30.4,"lo":29.8,"hi":31.0},{"g":"8\u2007 mg/kg","d":31,"v":30.5,"lo":29.9,"hi":31.1},
{"g":"8\u2007 mg/kg","d":34,"v":30.2,"lo":29.6,"hi":30.8},{"g":"8\u2007 mg/kg","d":38,"v":29.5,"lo":28.9,"hi":30.1},{"g":"8\u2007 mg/kg","d":41,"v":29.2,"lo":28.6,"hi":29.8},
{"g":"8\u2007 mg/kg","d":45,"v":28.0,"lo":27.4,"hi":28.6},{"g":"8\u2007 mg/kg","d":48,"v":28.3,"lo":27.7,"hi":28.9},{"g":"8\u2007 mg/kg","d":52,"v":28.6,"lo":28.0,"hi":29.2},
{"g":"12 mg/kg","d":3,"v":29.0,"lo":28.4,"hi":29.6},{"g":"12 mg/kg","d":6,"v":29.8,"lo":29.2,"hi":30.4},{"g":"12 mg/kg","d":10,"v":29.8,"lo":29.0,"hi":30.6},
{"g":"12 mg/kg","d":13,"v":30.2,"lo":29.6,"hi":30.8},{"g":"12 mg/kg","d":17,"v":30.2,"lo":29.6,"hi":30.8},{"g":"12 mg/kg","d":20,"v":29.7,"lo":28.9,"hi":30.5},
{"g":"12 mg/kg","d":24,"v":28.9,"lo":28.0,"hi":29.8},{"g":"12 mg/kg","d":27,"v":28.5,"lo":27.9,"hi":29.1},{"g":"12 mg/kg","d":31,"v":28.1,"lo":27.6,"hi":28.6},
{"g":"12 mg/kg","d":34,"v":28.3,"lo":27.7,"hi":28.9},{"g":"12 mg/kg","d":38,"v":28.3,"lo":27.6,"hi":29.0},{"g":"12 mg/kg","d":41,"v":28.1,"lo":27.5,"hi":28.7},
{"g":"12 mg/kg","d":45,"v":27.6,"lo":27.1,"hi":28.1},{"g":"12 mg/kg","d":48,"v":28.0,"lo":27.4,"hi":28.6},{"g":"12 mg/kg","d":52,"v":28.2,"lo":27.4,"hi":29.0}
],
"D_bar": [{"d":13.3,"d2":46.6,"v":2.8}],
"D_arr": [{"d":13.3,"v":0.7,"v2":2.6},{"d":46.6,"v":0.7,"v2":2.6}],
"D_lab": [{"d":57.9,"v":36.5,"t":"SK"}]
}
}
